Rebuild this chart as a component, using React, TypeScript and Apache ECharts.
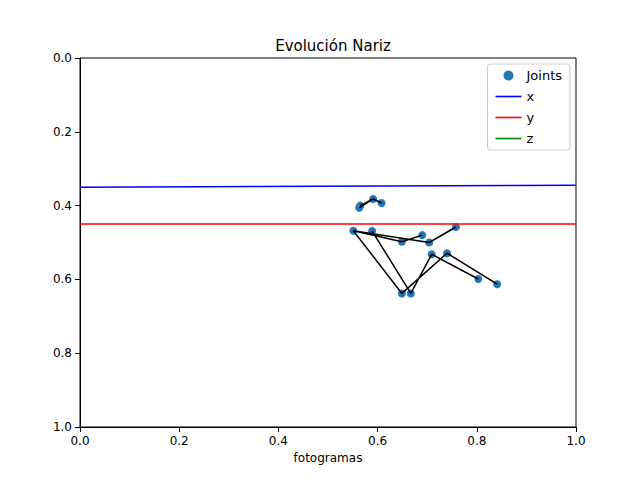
import React, { useEffect, useRef } from "react";
import * as echarts from "echarts";

// joint positions (x, y)
const jointsX = [0.563, 0.565, 0.591, 0.608, 0.551, 0.589, 0.649, 0.69, 0.704, 0.758, 0.709, 0.74, 0.803, 0.841, 0.649, 0.667];
const jointsY = [0.406, 0.4, 0.382, 0.393, 0.468, 0.469, 0.498, 0.48, 0.5, 0.458, 0.532, 0.529, 0.599, 0.613, 0.638, 0.638];
// bone chains as joint index lists
const chains = [
  [0, 2, 3],
  [1, 2],
  [6, 4, 8, 9],
  [6, 7],
  [4, 14, 11, 13],
  [5, 15, 10, 12],
];
const xLine = [[0, 0.35], [1, 0.345]];
const yLine = [[0, 0.45], [1, 0.45]];

const lineIcon = "path://M0,0L0,0M0,4.2h26v1.6h-26zM26,10L26,10";

const App: React.FC = () => {
  const ref = useRef<HTMLDivElement>(null);

  useEffect(() => {
    const chart = echarts.init(ref.current, null, { renderer: "svg" });
    const bones: any[] = [];
    chains.forEach((c, i) => {
      if (i > 0) bones.push("-");
      c.forEach((j) => bones.push([jointsX[j], jointsY[j]]));
    });
    const axisCommon = {
      type: "value" as const,
      min: 0,
      max: 1,
      interval: 0.2,
      splitLine: { show: false },
      axisLine: { show: true, onZero: false, lineStyle: { color: "#000" } },
      axisTick: { show: true, lineStyle: { color: "#000" } },
      axisLabel: { color: "#000", fontSize: 12, formatter: (v: number) => v.toFixed(1) },
    };
    chart.setOption({
      animation: false,
      textStyle: { fontFamily: "DejaVu Sans" },
      title: {
        text: "Evolución Nariz",
        left: 328,
        top: 33,
        textAlign: "center",
        textStyle: { fontSize: 15, fontWeight: "normal", color: "#000" },
      },
      grid: { left: 80, right: 64, top: 58, bottom: 53, show: true, borderColor: "#000", borderWidth: 1 },
      xAxis: {
        ...axisCommon,
        name: "fotogramas",
        nameLocation: "middle",
        nameGap: 24,
        nameTextStyle: { color: "#000", fontSize: 12 },
      },
      yAxis: { ...axisCommon, inverse: true },
      legend: {
        right: 70,
        top: 64,
        orient: "vertical",
        backgroundColor: "#fff",
        borderColor: "#ccc",
        borderWidth: 1,
        borderRadius: 3,
        padding: [5, 8],
        itemGap: 8,
        itemWidth: 26,
        itemHeight: 10,
        textStyle: { color: "#000", fontSize: 13 },
        data: [
          { name: "Joints", icon: "circle" },
          { name: "x", icon: lineIcon, itemStyle: { color: "blue" } },
          { name: "y", icon: lineIcon, itemStyle: { color: "red" } },
          { name: "z", icon: lineIcon, itemStyle: { color: "green" } },
        ],
      },
      series: [
        { name: "x", type: "line", data: xLine, symbol: "none", lineStyle: { color: "blue", width: 1.5 }, itemStyle: { color: "blue" } },
        { name: "y", type: "line", data: yLine, symbol: "none", lineStyle: { color: "red", width: 1.5 }, itemStyle: { color: "red" } },
        { name: "z", type: "line", data: [], symbol: "none", lineStyle: { color: "green", width: 1.5 }, itemStyle: { color: "green" } },
        {
          name: "Joints",
          type: "scatter",
          data: jointsX.map((x, i) => [x, jointsY[i]]),
          symbolSize: 8,
          itemStyle: { color: "#1f77b4", opacity: 1 },
          z: 2,
        },
        {
          name: "bones",
          type: "line",
          data: bones,
          connectNulls: false,
          symbol: "none",
          lineStyle: { color: "#000", width: 1.5 },
          z: 3,
        },
      ],
    });
    return () => chart.dispose();
  }, []);

  return <div ref={ref} style={{ width: 640, height: 480, margin: -8 }} />;
};

export default App;
